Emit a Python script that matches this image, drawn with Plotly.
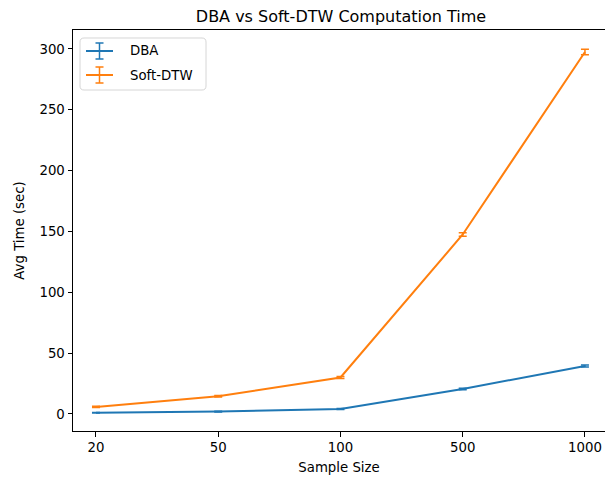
import plotly.graph_objects as go

# Benchmark results: average runtime per method and sample size
sample_sizes = ["20", "50", "100", "500", "1000"]
dba_time = [1.0, 2.0, 4.0, 20.5, 39.5]
dba_err = [0.3, 0.3, 0.4, 0.6, 0.8]
softdtw_time = [5.8, 14.5, 30.0, 147.5, 297.5]
softdtw_err = [0.5, 0.6, 0.8, 1.5, 2.3]

BLUE = "#1f77b4"
ORANGE = "#ff7f0e"
FONT = "DejaVu Sans"

W, H = 605, 479
ML, MR, MT, MB = 73, 0, 30, 48
PW, PH = W - ML - MR, H - MT - MB

fig = go.Figure()

for name, ys, errs, color in [
    ("DBA", dba_time, dba_err, BLUE),
    ("Soft-DTW", softdtw_time, softdtw_err, ORANGE),
]:
    fig.add_trace(go.Scatter(
        x=list(range(len(sample_sizes))), y=ys, name=name, mode="lines",
        line=dict(color=color, width=2),
        error_y=dict(type="data", array=errs, visible=True, color=color,
                     thickness=1.5, width=4),
        showlegend=False,
    ))


def px(x, y):
    """Pixel position in the figure -> paper coordinates of the plot area."""
    return (x - ML) / PW, 1 - (y - MT) / PH


# Hand-drawn legend with error-bar glyphs
legend_items = [("DBA", BLUE), ("Soft-DTW", ORANGE)]
shapes = []
annotations = []
lx0, ly0, lx1, ly1 = 80, 38, 206, 90
r = 4
pts = {}
for k, (x, y) in {
    "a": (lx0 + r, ly0), "b": (lx1 - r, ly0), "c": (lx1, ly0), "d": (lx1, ly0 + r),
    "e": (lx1, ly1 - r), "f": (lx1, ly1), "g": (lx1 - r, ly1), "h": (lx0 + r, ly1),
    "i": (lx0, ly1), "j": (lx0, ly1 - r), "k": (lx0, ly0 + r), "l": (lx0, ly0),
}.items():
    px_, py_ = px(x, y)
    pts[k] = f"{px_:.5f},{py_:.5f}"
shapes.append(dict(
    type="path", xref="paper", yref="paper", layer="above",
    path=(f"M{pts['a']} L{pts['b']} Q{pts['c']} {pts['d']} L{pts['e']} "
          f"Q{pts['f']} {pts['g']} L{pts['h']} Q{pts['i']} {pts['j']} "
          f"L{pts['k']} Q{pts['l']} {pts['a']} Z"),
    line=dict(color="#d6d6d6", width=1), fillcolor="rgba(255,255,255,0.8)",
))

for i, (label, color) in enumerate(legend_items):
    cy = 51 + i * 24
    segs = [((86, cy), (113, cy), 2), ((99.5, cy - 8), (99.5, cy + 8), 1.5),
            ((95.5, cy - 8), (103.5, cy - 8), 1.5), ((95.5, cy + 8), (103.5, cy + 8), 1.5)]
    for (xa, ya), (xb, yb), lw in segs:
        pa, pb = px(xa, ya), px(xb, yb)
        shapes.append(dict(type="line", xref="paper", yref="paper", layer="above",
                           x0=pa[0], y0=pa[1], x1=pb[0], y1=pb[1],
                           line=dict(color=color, width=lw)))
    tx, ty = px(128, cy)
    annotations.append(dict(x=tx, y=ty, xref="paper", yref="paper", text=label,
                            showarrow=False, xanchor="left", yanchor="middle",
                            font=dict(family=FONT, size=13.3, color="#000")))

fig.update_layout(
    width=W, height=H,
    margin=dict(l=ML, r=MR, t=MT, b=MB),
    paper_bgcolor="white", plot_bgcolor="white",
    font=dict(family=FONT, color="#000"),
    title=dict(text="DBA vs Soft-DTW Computation Time", x=(341 - 0) / W, xanchor="center",
               xref="container", y=1 - 16 / H, yanchor="middle",
               font=dict(family=FONT, size=16, color="#000")),
    shapes=shapes,
    annotations=annotations,
)
fig.update_xaxes(
    range=[-0.188, 4.164], tickmode="array",
    tickvals=list(range(len(sample_sizes))), ticktext=sample_sizes,
    showgrid=False, zeroline=False, showline=True, linecolor="#000", linewidth=1,
    mirror=True, ticks="outside", ticklen=4.5, tickcolor="#000",
    tickfont=dict(family=FONT, size=13.3, color="#000"),
    title=dict(text="Sample Size", font=dict(family=FONT, size=13.3, color="#000"), standoff=8),
)
fig.update_yaxes(
    range=[-14, 315.6], tickmode="array", tickvals=[0, 50, 100, 150, 200, 250, 300],
    showgrid=False, zeroline=False, showline=True, linecolor="#000", linewidth=1,
    ticks="outside", ticklen=4.5, tickcolor="#000",
    tickfont=dict(family=FONT, size=13.3, color="#000"),
    title=dict(text="Avg Time (sec)", font=dict(family=FONT, size=13.3, color="#000"), standoff=11),
)

fig.write_html("out.html")
